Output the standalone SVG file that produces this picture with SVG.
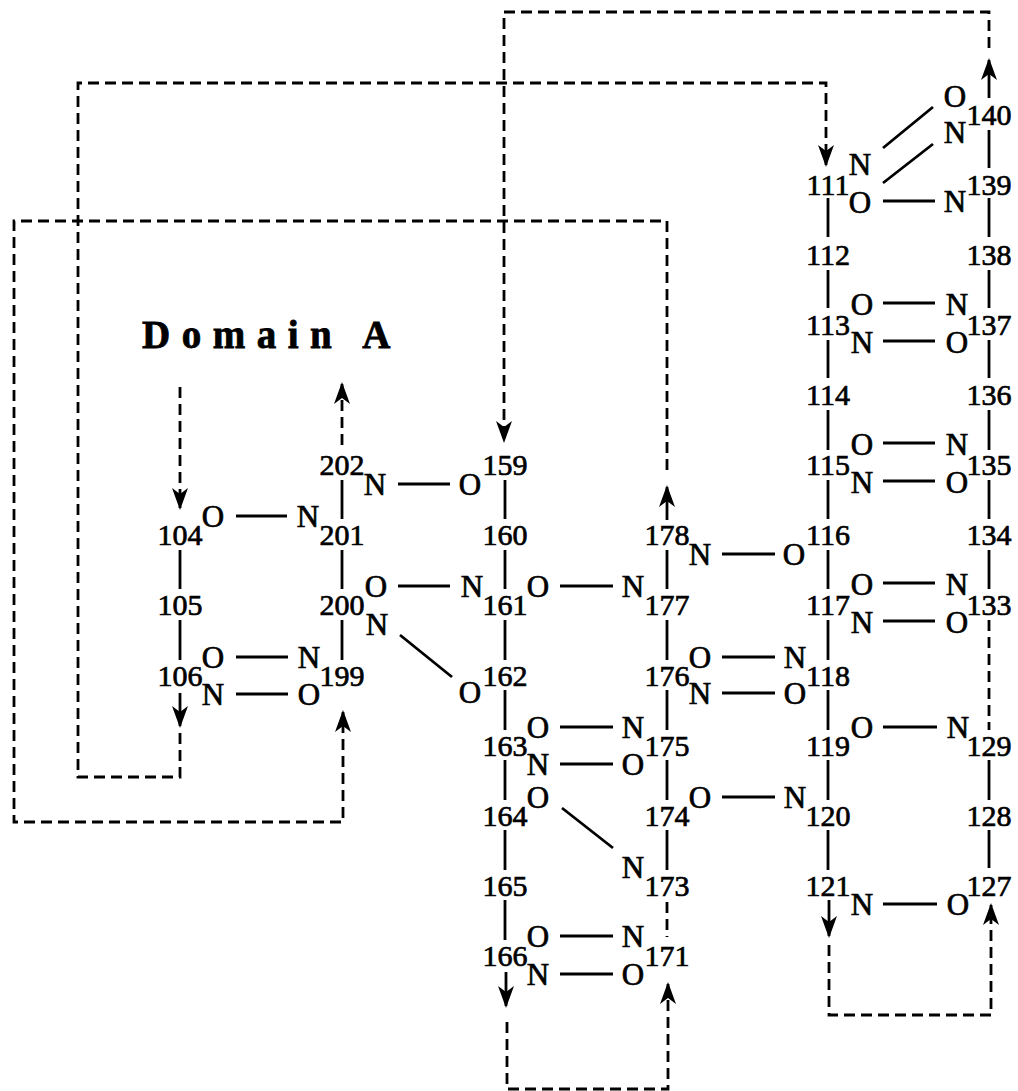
<svg xmlns="http://www.w3.org/2000/svg" width="1018" height="1091" viewBox="0 0 1018 1091">
<style>
.num{font-family:"Liberation Serif","Times New Roman",serif;font-size:30px;text-anchor:middle;fill:#000;stroke:#000;stroke-width:0.7}
.atom{font-family:"Liberation Serif","Times New Roman",serif;font-size:31px;text-anchor:middle;fill:#000;stroke:#000;stroke-width:0.7}
.title{font-family:"Liberation Serif","Times New Roman",serif;font-size:39px;font-weight:bold;letter-spacing:11.5px;fill:#000;stroke:#000;stroke-width:0.8}
.bond{stroke:#000;stroke-width:2.8;fill:none}
.dash{stroke:#000;stroke-width:2.8;fill:none;stroke-dasharray:11 6}
</style>
<defs>
<marker id="ah" viewBox="0 0 22 16" refX="20" refY="8" markerWidth="22" markerHeight="16" markerUnits="userSpaceOnUse" orient="auto">
<path d="M0,0 L22,8 L0,16 L6,8 Z" fill="#000" stroke="none"/>
</marker>
</defs>
<rect width="1018" height="1091" fill="#fff"/>
<text class="title" x="142" y="348">Domain A</text>
<g id="connectors">
<path class="bond" d="M180,550V589M180,620V660M342,480V519M342,550V589M342,620V660M505,480V519M505,550V589M505,620V660M505,690V730M505,760V800M505,830V870M505,900V940M667,550V589M667,620V660M667,690V730M667,760V800M667,830V870M828,198V237M828,270V308M828,340V378M828,410V450M828,480V519M828,550V589M828,620V660M828,690V730M828,760V800M828,830V870M989,130V168M989,198V237M989,270V308M989,340V378M989,410V450M989,480V519M989,550V589M989,760V800M989,830V868"/>
<path class="bond" d="M236,516H287M398,484H450M398,586H450M560,586H613M722,554H775M236,657H288M236,694H288M722,657H775M722,693H775M560,727H613M560,764H613M722,797H775M560,936H613M560,974H613M883,201H935M883,303H935M883,341H935M883,443H935M883,481H935M883,583H935M883,621H935M883,727H937M883,904H937"/>
<path class="bond" d="M400,635L452,677M562,808L613,848M883,148L933,107M883,183L933,144"/>
<path class="dash" d="M180,387V508" marker-end="url(#ah)"/>
<path class="dash" d="M342,445V384" marker-end="url(#ah)"/>
<path class="bond" d="M180,693V726" marker-end="url(#ah)"/>
<path class="dash" d="M180,733V777H78V83H826V165" marker-end="url(#ah)"/>
<path class="bond" d="M667,520V487" marker-end="url(#ah)"/>
<path class="dash" d="M667,470V221H14V822H343V712" marker-end="url(#ah)"/>
<path class="bond" d="M989,98V60" marker-end="url(#ah)"/>
<path class="dash" d="M989,48V12H504V441" marker-end="url(#ah)"/>
<path class="bond" d="M829,900V936" marker-end="url(#ah)"/>
<path class="dash" d="M829,945V1015H991V905" marker-end="url(#ah)"/>
<path class="bond" d="M506,972V1006" marker-end="url(#ah)"/>
<path class="dash" d="M507,1022V1089H668V984" marker-end="url(#ah)"/>
<path class="dash" d="M989,620V730"/>
<path class="dash" d="M667,902V937"/>
</g>
<g id="r104"><text class="num" x="180" y="545">104</text><text class="atom" x="213" y="527">O</text></g>
<g id="r105"><text class="num" x="180" y="615">105</text></g>
<g id="r106"><text class="num" x="180" y="686">106</text><text class="atom" x="213" y="668">O</text><text class="atom" x="213" y="705">N</text></g>
<g id="r202"><text class="num" x="342" y="475">202</text><text class="atom" x="375" y="495">N</text></g>
<g id="r201"><text class="num" x="342" y="545">201</text><text class="atom" x="308" y="527">N</text></g>
<g id="r200"><text class="num" x="342" y="615">200</text><text class="atom" x="376" y="597">O</text><text class="atom" x="377" y="635">N</text></g>
<g id="r199"><text class="num" x="342" y="686">199</text><text class="atom" x="309" y="668">N</text><text class="atom" x="309" y="705">O</text></g>
<g id="r159"><text class="num" x="505" y="475">159</text><text class="atom" x="470" y="495">O</text></g>
<g id="r160"><text class="num" x="505" y="545">160</text></g>
<g id="r161"><text class="num" x="505" y="615">161</text><text class="atom" x="472" y="597">N</text><text class="atom" x="538" y="597">O</text></g>
<g id="r162"><text class="num" x="505" y="686">162</text><text class="atom" x="470" y="703">O</text></g>
<g id="r163"><text class="num" x="505" y="756">163</text><text class="atom" x="538" y="738">O</text><text class="atom" x="538" y="775">N</text></g>
<g id="r164"><text class="num" x="505" y="826">164</text><text class="atom" x="538" y="808">O</text></g>
<g id="r165"><text class="num" x="505" y="896">165</text></g>
<g id="r166"><text class="num" x="505" y="966">166</text><text class="atom" x="538" y="947">O</text><text class="atom" x="538" y="985">N</text></g>
<g id="r178"><text class="num" x="667" y="545">178</text><text class="atom" x="700" y="565">N</text></g>
<g id="r177"><text class="num" x="667" y="615">177</text><text class="atom" x="633" y="597">N</text></g>
<g id="r176"><text class="num" x="667" y="686">176</text><text class="atom" x="700" y="668">O</text><text class="atom" x="700" y="704">N</text></g>
<g id="r175"><text class="num" x="667" y="756">175</text><text class="atom" x="633" y="738">N</text><text class="atom" x="633" y="775">O</text></g>
<g id="r174"><text class="num" x="667" y="826">174</text><text class="atom" x="700" y="808">O</text></g>
<g id="r173"><text class="num" x="667" y="896">173</text><text class="atom" x="633" y="878">N</text></g>
<g id="r171"><text class="num" x="667" y="966">171</text><text class="atom" x="633" y="947">N</text><text class="atom" x="633" y="985">O</text></g>
<g id="r111"><text class="num" x="828" y="195">111</text><text class="atom" x="860" y="175">N</text><text class="atom" x="860" y="213">O</text></g>
<g id="r112"><text class="num" x="828" y="265">112</text></g>
<g id="r113"><text class="num" x="828" y="335">113</text><text class="atom" x="862" y="315">O</text><text class="atom" x="862" y="353">N</text></g>
<g id="r114"><text class="num" x="828" y="405">114</text></g>
<g id="r115"><text class="num" x="828" y="475">115</text><text class="atom" x="862" y="455">O</text><text class="atom" x="862" y="493">N</text></g>
<g id="r116"><text class="num" x="828" y="545">116</text><text class="atom" x="794" y="565">O</text></g>
<g id="r117"><text class="num" x="828" y="615">117</text><text class="atom" x="862" y="595">O</text><text class="atom" x="862" y="633">N</text></g>
<g id="r118"><text class="num" x="828" y="686">118</text><text class="atom" x="795" y="668">N</text><text class="atom" x="795" y="704">O</text></g>
<g id="r119"><text class="num" x="828" y="756">119</text><text class="atom" x="862" y="738">O</text></g>
<g id="r120"><text class="num" x="828" y="826">120</text><text class="atom" x="795" y="808">N</text></g>
<g id="r121"><text class="num" x="828" y="896">121</text><text class="atom" x="862" y="915">N</text></g>
<g id="r140"><text class="num" x="989" y="125">140</text><text class="atom" x="955" y="107">O</text><text class="atom" x="955" y="143">N</text></g>
<g id="r139"><text class="num" x="989" y="195">139</text><text class="atom" x="955" y="212">N</text></g>
<g id="r138"><text class="num" x="989" y="265">138</text></g>
<g id="r137"><text class="num" x="989" y="335">137</text><text class="atom" x="957" y="315">N</text><text class="atom" x="957" y="353">O</text></g>
<g id="r136"><text class="num" x="989" y="405">136</text></g>
<g id="r135"><text class="num" x="989" y="475">135</text><text class="atom" x="957" y="455">N</text><text class="atom" x="957" y="493">O</text></g>
<g id="r134"><text class="num" x="989" y="545">134</text></g>
<g id="r133"><text class="num" x="989" y="615">133</text><text class="atom" x="957" y="595">N</text><text class="atom" x="957" y="633">O</text></g>
<g id="r129"><text class="num" x="989" y="756">129</text><text class="atom" x="958" y="738">N</text></g>
<g id="r128"><text class="num" x="989" y="826">128</text></g>
<g id="r127"><text class="num" x="989" y="896">127</text><text class="atom" x="958" y="915">O</text></g>
</svg>
